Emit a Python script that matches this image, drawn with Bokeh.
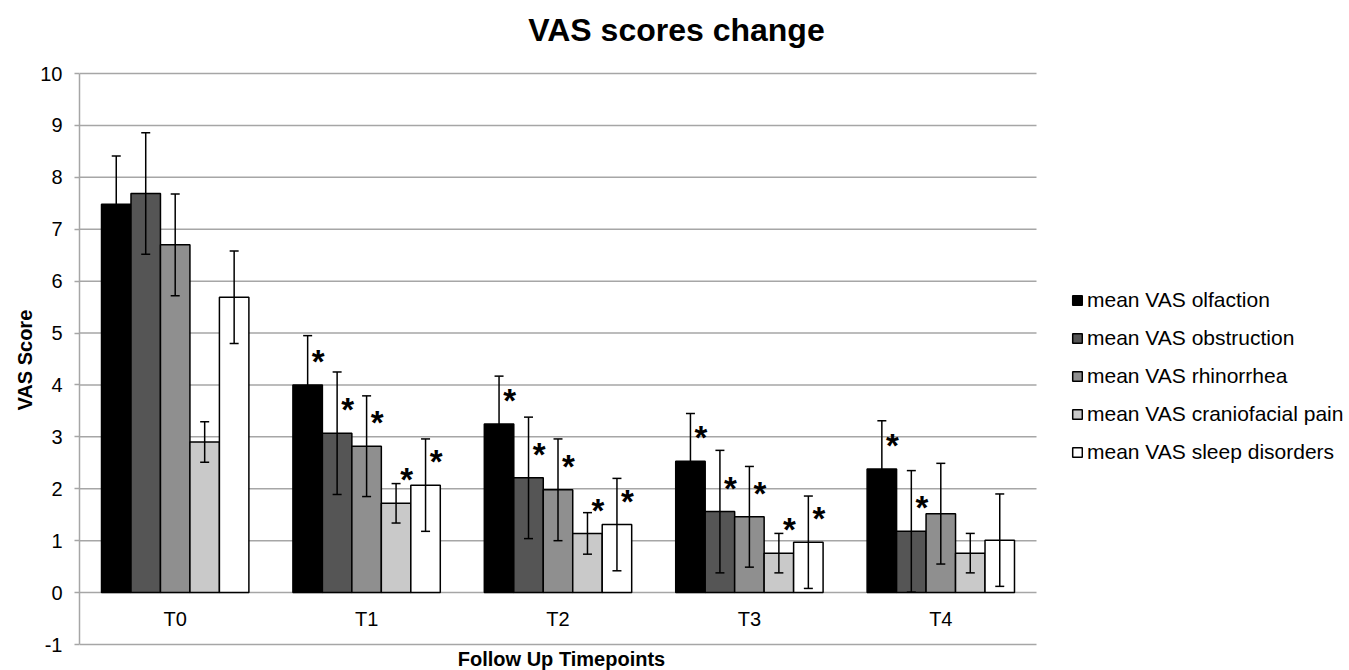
from bokeh.plotting import figure
from bokeh.models import (ColumnDataSource, Range1d, Whisker, TeeHead,
                          Legend, LegendItem, Label, Title, FixedTicker)
from bokeh.embed import file_html
from bokeh.resources import INLINE
from bokeh.core.properties import value

# ---------------- data ----------------
timepoints = ["T0", "T1", "T2", "T3", "T4"]
series_names = ["mean VAS olfaction", "mean VAS obstruction", "mean VAS rhinorrhea",
                "mean VAS craniofacial pain", "mean VAS sleep disorders"]

olfaction = [7.48, 4.00, 3.25, 2.53, 2.38]
olfaction_err = [0.93, 0.95, 0.92, 0.92, 0.93]
olfaction_sig = [0, 1, 1, 1, 1]

obstruction = [7.69, 3.07, 2.21, 1.56, 1.18]
obstruction_err = [1.17, 1.18, 1.17, 1.18, 1.17]
obstruction_sig = [0, 1, 1, 1, 1]

rhinorrhea = [6.70, 2.82, 1.98, 1.46, 1.52]
rhinorrhea_err = [0.98, 0.97, 0.98, 0.97, 0.97]
rhinorrhea_sig = [0, 1, 1, 1, 0]

craniofacial = [2.90, 1.72, 1.14, 0.76, 0.76]
craniofacial_err = [0.39, 0.38, 0.40, 0.38, 0.38]
craniofacial_sig = [0, 1, 1, 1, 0]

sleep = [5.69, 2.07, 1.31, 0.97, 1.01]
sleep_err = [0.89, 0.89, 0.89, 0.89, 0.89]
sleep_sig = [0, 1, 1, 1, 0]

y_ticks = [-1, 0, 1, 2, 3, 4, 5, 6, 7, 8, 9, 10]

# ---------------- style ----------------
FONT = "Liberation Sans"
GRID = "#a6a6a6"
fills = ["#000000", "#555555", "#8f8f8f", "#c9c9c9", "#ffffff"]
offsets = [-0.308, -0.154, 0.0, 0.154, 0.308]
bar_w = 0.154
star_dx = 0.055
star_dy = 0.45

values = [olfaction, obstruction, rhinorrhea, craniofacial, sleep]
errors = [olfaction_err, obstruction_err, rhinorrhea_err, craniofacial_err, sleep_err]
sigs = [olfaction_sig, obstruction_sig, rhinorrhea_sig, craniofacial_sig, sleep_sig]

W, H = 1349, 670
LEFT = 79
n = len(timepoints)
cat_px = 957 / n                    # pixels per time point
unit_px = 571 / (y_ticks[-1] - y_ticks[0])
x_end = (W - LEFT) / cat_px
y_top = y_ticks[-1] + 73 / unit_px
y_bot = y_ticks[0] - (H - 644) / unit_px

p = figure(x_range=Range1d(0, x_end), y_range=Range1d(y_bot, y_top),
           width=W, height=H, output_backend="svg", toolbar_location=None,
           min_border_left=LEFT, min_border_right=0, min_border_top=0, min_border_bottom=0)
p.title.visible = False
p.outline_line_color = None
p.background_fill_color = "white"
p.xgrid.grid_line_color = None
p.ygrid.grid_line_color = None

centers = [i + 0.5 for i, _ in enumerate(timepoints)]

# horizontal gridlines across the plot area only
p.segment(x0=[0] * len(y_ticks), x1=[n] * len(y_ticks), y0=y_ticks, y1=y_ticks,
          line_color=GRID, line_width=1.5, level="underlay")

items = []
for name, vals, errs, sg, fill, off in zip(series_names, values, errors, sigs, fills, offsets):
    src = ColumnDataSource(dict(
        x=[c + off for c in centers],
        top=vals,
        upper=[v + e for v, e in zip(vals, errs)],
        lower=[v - e for v, e in zip(vals, errs)],
        star=["*" if s else "" for s in sg],
        star_x=[c + off + star_dx for c in centers],
        star_y=[v + star_dy for v in vals],
    ))
    r = p.vbar(x="x", top="top", bottom=0, width=bar_w,
               fill_color=fill, line_color="black", line_width=1.5, source=src)
    items.append(LegendItem(label=name, renderers=[r]))
    w = Whisker(source=src, base="x", upper="upper", lower="lower",
                line_color="black", line_width=1.5, level="overlay",
                upper_head=TeeHead(size=9, line_color="black", line_width=1.5),
                lower_head=TeeHead(size=9, line_color="black", line_width=1.5))
    p.add_layout(w)
    p.text(x="star_x", y="star_y", text="star", source=src,
           text_font=value(FONT), text_font_size="33px", text_font_style="bold",
           text_align="center", text_baseline="alphabetic", text_color="black")

# y axis
p.yaxis.bounds = (y_ticks[0], y_ticks[-1])
p.yaxis.ticker = FixedTicker(ticks=y_ticks)
p.yaxis.major_label_overrides = {-1: "-1"}
p.yaxis.major_label_text_font = FONT
p.yaxis.major_label_text_font_size = "20px"
p.yaxis.major_label_text_color = "black"
p.yaxis.major_label_standoff = 12
p.yaxis.axis_line_color = GRID
p.yaxis.axis_line_width = 1.5
p.yaxis.major_tick_line_color = GRID
p.yaxis.major_tick_line_width = 1.5
p.yaxis.major_tick_out = 5
p.yaxis.major_tick_in = 0
p.yaxis.minor_tick_line_color = None

# y axis title, centred on the -1..10 span
p.add_layout(Title(text="VAS Score", align="left", offset=260, standoff=4,
                   text_font=FONT, text_font_size="20px", text_font_style="bold",
                   text_color="black"), "left")

# x axis: time point labels just under the zero line
p.xaxis.fixed_location = 0
p.xaxis.ticker = FixedTicker(ticks=centers)
p.xaxis.major_label_overrides = {c: t for c, t in zip(centers, timepoints)}
p.xaxis.axis_line_color = None
p.xaxis.major_tick_line_color = None
p.xaxis.minor_tick_line_color = None
p.xaxis.major_label_standoff = 9
p.xaxis.major_label_text_font = FONT
p.xaxis.major_label_text_font_size = "20px"
p.xaxis.major_label_text_color = "black"

legend = Legend(items=items, location=(992, 206), glyph_width=12, glyph_height=12,
                label_standoff=4, spacing=14, padding=0, margin=0,
                border_line_color=None, background_fill_alpha=0,
                label_text_font=FONT, label_text_font_size="21px", label_text_color="black")
p.add_layout(legend, "center")

p.add_layout(Label(x=597, y=H - 29, x_units="screen", y_units="screen", text="VAS scores change",
                   text_font=FONT, text_font_size="32px", text_font_style="bold",
                   text_align="center", text_baseline="alphabetic", text_color="black"))
p.add_layout(Label(x=482, y=12, x_units="screen", y_units="screen", text="Follow Up Timepoints",
                   text_font=FONT, text_font_size="20px", text_font_style="bold",
                   text_align="center", text_baseline="alphabetic", text_color="black"))

open("out.html", "w").write(file_html(p, INLINE))
